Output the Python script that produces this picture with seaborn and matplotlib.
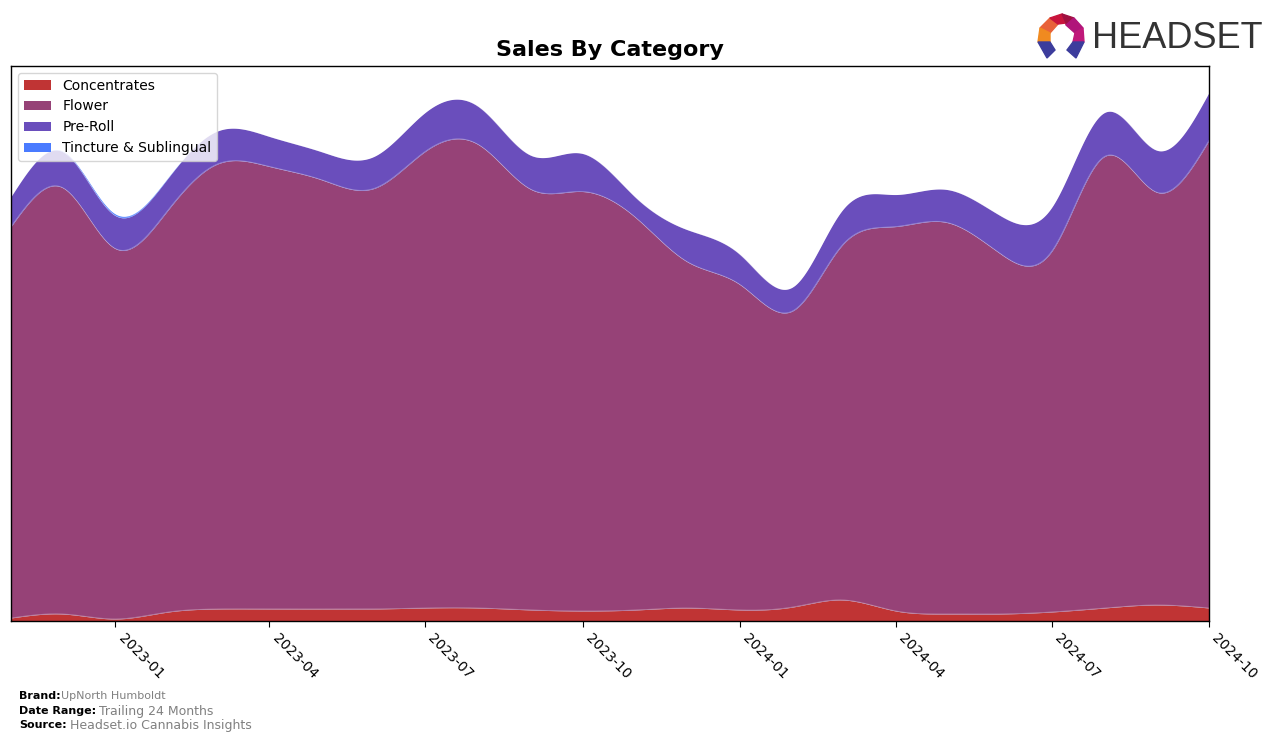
import numpy as np
import pandas as pd
import matplotlib
matplotlib.use("Agg")
import matplotlib.pyplot as plt
import matplotlib.dates as mdates
from matplotlib.patches import Polygon
import seaborn as sns

# ---------------- data (monthly sales, arbitrary units) ----------------
months = pd.date_range("2022-11-01", "2024-10-01", freq="MS")
categories = ["Concentrates", "Flower", "Pre-Roll", "Tincture & Sublingual"]
concentrates = [3, 7, 2, 9, 12, 12, 12, 12, 13, 13, 11, 10, 11, 13, 11, 14, 21, 10, 7, 7, 9, 13, 16, 13]
flower = [391, 426, 370, 402, 444, 442, 429, 420, 456, 463, 420, 419, 392, 346, 325, 296, 355, 384, 391, 360, 360, 451, 412, 467]
pre_roll = [30, 36, 33, 32, 33, 30, 28, 32, 39, 38, 34, 38, 20, 32, 30, 24, 35, 32, 33, 38, 44, 44, 42, 48]
tincture = [0, 0.5, 1.5, 0.5, 0, 0, 0, 0, 0, 0, 0, 0, 0, 0, 0, 0, 0, 0, 0, 0, 0, 0, 0, 0]
colors = ["#C03434", "#964277", "#6A4EBC", "#4A7BFF"]
quarter_ticks = ["2023-01", "2023-04", "2023-07", "2023-10", "2024-01", "2024-04", "2024-07", "2024-10"]

brand = "UpNorth Humboldt"
date_range = "Trailing 24 Months"
source = "Headset.io Cannabis Insights"


def natural_spline(x, y, xs):
    x = np.asarray(x, float); y = np.asarray(y, float)
    n = len(x); h = np.diff(x)
    A = np.zeros((n, n)); b = np.zeros(n)
    A[0, 0] = A[-1, -1] = 1
    for i in range(1, n - 1):
        A[i, i - 1] = h[i - 1]; A[i, i] = 2 * (h[i - 1] + h[i]); A[i, i + 1] = h[i]
        b[i] = 3 * ((y[i + 1] - y[i]) / h[i] - (y[i] - y[i - 1]) / h[i - 1])
    c = np.linalg.solve(A, b)
    bb = (y[1:] - y[:-1]) / h - h * (2 * c[:-1] + c[1:]) / 3
    d = (c[1:] - c[:-1]) / (3 * h)
    idx = np.clip(np.searchsorted(x, xs) - 1, 0, n - 2)
    t = xs - x[idx]
    return y[idx] + bb[idx] * t + c[idx] * t ** 2 + d[idx] * t ** 3


sns.set_style("ticks")
plt.rcParams["font.family"] = ["DejaVu Sans"]
plt.rcParams["text.color"] = "black"
plt.rcParams["xtick.color"] = "black"
plt.rcParams["xtick.labelcolor"] = "black"

fig = plt.figure(figsize=(12.76, 7.41), dpi=100)
ax = fig.add_axes([11 / 1276, 120 / 741, (1209 - 11) / 1276, (621 - 66) / 741])

xnum = mdates.date2num(months)
xs = np.linspace(xnum[0], xnum[-1], 800)
series = [concentrates, flower, pre_roll, tincture]
smooth = [np.clip(natural_spline(xnum, s, xs), 0, None) for s in series]
base = np.zeros_like(xs)
xdates = mdates.num2date(xs)
for name, sm, col in zip(categories, smooth, colors):
    top = base + sm
    ax.fill_between(xdates, base, top, color=col, linewidth=0, label=name)
    base = top
# thin boundary lines between layers
cum = np.cumsum(np.vstack(smooth), axis=0)
for k in range(3):
    sns.lineplot(x=xdates, y=cum[k], ax=ax, color="white", linewidth=0.6, alpha=0.3, legend=False)

ax.set_xlim(mdates.num2date(xnum[0]), mdates.num2date(xnum[-1]))
ax.set_ylim(0, cum[-1].max() * 1.05)
ax.set_yticks([])
ax.set_xlabel(""); ax.set_ylabel("")
ax.set_xticks(pd.to_datetime(quarter_ticks))
ax.set_xticklabels(quarter_ticks, rotation=-45, ha="left", fontsize=10, color="black")
ax.tick_params(axis="x", colors="black", length=4)
for s in ax.spines.values():
    s.set_visible(True); s.set_color("black"); s.set_linewidth(1)

ax.legend(loc="upper left", fontsize=10, frameon=True, handlelength=2, borderaxespad=0.5)

fig.text(610 / 1276, 1 - 50 / 741, "Sales By Category", ha="center", va="center",
         fontsize=16, fontweight="bold", color="black")

# footer
fig.text(19 / 1276, 1 - 696 / 741, "Brand:", fontsize=8, fontweight="bold", va="center")
fig.text(61 / 1276, 1 - 696 / 741, brand, fontsize=8, color="gray", va="center")
fig.text(19 / 1276, 1 - 711 / 741, "Date Range:", fontsize=8, fontweight="bold", va="center")
fig.text(99 / 1276, 1 - 711 / 741, date_range, fontsize=9, color="gray", va="center")
fig.text(19 / 1276, 1 - 725 / 741, "Source:", fontsize=8, fontweight="bold", va="center")
fig.text(70 / 1276, 1 - 725 / 741, source, fontsize=9, color="gray", va="center")

# logo
def P(pts):
    return [(px / 1276, 1 - py / 741) for px, py in pts]

logo_parts = [
    ([(1040, 28), (1050, 18), (1058, 24), (1050, 33)], "#E8623A"),
    ([(1050, 18), (1062, 14), (1066, 23), (1058, 24)], "#C8143C"),
    ([(1062, 14), (1074, 18), (1066, 25), (1066, 23)], "#A01040"),
    ([(1074, 18), (1083, 28), (1075, 33), (1066, 25)], "#B0157A"),
    ([(1040, 28), (1050, 33), (1050, 42), (1038, 42)], "#F08A20"),
    ([(1075, 33), (1083, 28), (1084, 42), (1073, 42)], "#C0187A"),
    ([(1038, 42), (1050, 42), (1055, 50), (1047, 58)], "#3C3C9C"),
    ([(1073, 42), (1084, 42), (1076, 58), (1067, 50)], "#3C3C9C"),
]
for pts, col in logo_parts:
    fig.patches.append(Polygon(P(pts), closed=True, color=col, transform=fig.transFigure, figure=fig))
fig.text(1092 / 1276, 1 - 38 / 741, "HEADSET", fontsize=26, color="#333333", va="center", ha="left",
         family=["Liberation Sans", "DejaVu Sans"])

fig.savefig("out.png", dpi=100)
